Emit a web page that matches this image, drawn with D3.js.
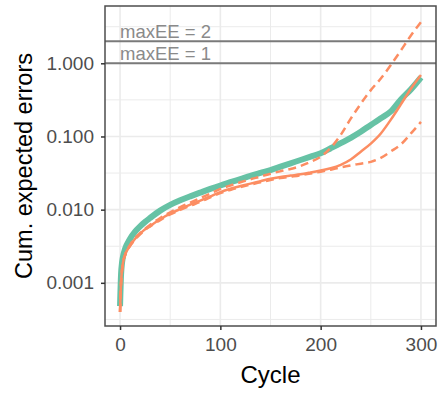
<!DOCTYPE html>
<html>
<head>
<meta charset="utf-8">
<script src="https://cdn.jsdelivr.net/npm/d3@7"></script>
<style>
  html, body { margin: 0; padding: 0; background: #ffffff; }
  svg { display: block; font-family: "Liberation Sans", Arial, Helvetica, sans-serif; }
</style>
</head>
<body>
<svg id="chart" width="439" height="396"></svg>
<script>
// Sequencing cycle at which each cumulative value is recorded
const cycles = [0, 1, 2, 3, 5, 10, 15, 20, 25, 30, 40, 50, 60, 70, 80, 90, 100, 110, 120, 130,
  140, 150, 160, 170, 180, 190, 200, 210, 220, 230, 240, 250, 260, 270, 280, 290, 300];

// Cumulative expected errors, reference read (thick line)
const eeRead1 = [0.00048, 0.0013, 0.0019, 0.0023, 0.0029, 0.0040, 0.0050, 0.0059, 0.0068, 0.0077,
  0.0097, 0.0116, 0.0134, 0.0152, 0.0171, 0.0192, 0.0214, 0.0237, 0.0262, 0.0290,
  0.0318, 0.0348, 0.0387, 0.0430, 0.0477, 0.0530, 0.0590, 0.0690, 0.0810, 0.0960,
  0.1160, 0.1440, 0.1770, 0.2200, 0.3200, 0.4400, 0.6400];

// Cumulative expected errors, second read: median and the two bounds
const eeRead2 = [0.00040, 0.0010, 0.0015, 0.0019, 0.0024, 0.0032, 0.0040, 0.0047, 0.0054, 0.0060,
  0.0074, 0.0088, 0.0102, 0.0117, 0.0133, 0.0152, 0.0174, 0.0193, 0.0210, 0.0227,
  0.0245, 0.0265, 0.0280, 0.0292, 0.0304, 0.0322, 0.0343, 0.0368, 0.0410, 0.0485,
  0.0620, 0.0800, 0.1100, 0.1700, 0.2750, 0.4500, 0.6900];
const eeRead2Upper = [0.00040, 0.0010, 0.0015, 0.0019, 0.0024, 0.0033, 0.0041, 0.0048, 0.0055, 0.0062,
  0.0077, 0.0092, 0.0108, 0.0125, 0.0144, 0.0166, 0.0192, 0.0214, 0.0237, 0.0260,
  0.0283, 0.0310, 0.0335, 0.0360, 0.0395, 0.0450, 0.0530, 0.0700, 0.1050, 0.1750,
  0.2800, 0.4300, 0.6200, 0.9500, 1.5000, 2.4000, 3.6500];
const eeRead2Lower = [0.00040, 0.0010, 0.0015, 0.0019, 0.0024, 0.0032, 0.0039, 0.0046, 0.0053, 0.0059,
  0.0072, 0.0086, 0.0099, 0.0113, 0.0128, 0.0147, 0.0168, 0.0186, 0.0203, 0.0220,
  0.0237, 0.0255, 0.0270, 0.0282, 0.0295, 0.0312, 0.0330, 0.0352, 0.0378, 0.0402,
  0.0425, 0.0450, 0.0510, 0.0625, 0.0780, 0.1100, 0.1580];

// Expected-error thresholds
const thresholds = [2, 1];
const thresholdLabels = ["maxEE = 2", "maxEE = 1"];

// Axis ticks
const xTicks = [0, 100, 200, 300];
const xMinor = [50, 150, 250];
const yTicks = [0.001, 0.01, 0.1, 1];
const yMinor = [Math.pow(10, -3.5), Math.pow(10, -2.5), Math.pow(10, -1.5), Math.pow(10, -0.5), Math.pow(10, 0.5)];

const panel = { left: 105, top: 6, right: 436, bottom: 326 };

const svg = d3.select("#chart");

const x = d3.scaleLinear().domain([-15, 315]).range([panel.left, panel.right]);
const y = d3.scaleLog().domain([Math.pow(10, -3.59), Math.pow(10, 0.783)]).range([panel.bottom, panel.top]);

// Panel background and grid
const grid = svg.append("g");
grid.append("rect")
  .attr("x", panel.left).attr("y", panel.top)
  .attr("width", panel.right - panel.left).attr("height", panel.bottom - panel.top)
  .attr("fill", "#ffffff");

grid.selectAll("line.ymin").data(yMinor).join("line")
  .attr("x1", panel.left).attr("x2", panel.right)
  .attr("y1", d => y(d)).attr("y2", d => y(d))
  .attr("stroke", "#EBEBEB").attr("stroke-width", 1);
grid.selectAll("line.xmin").data(xMinor).join("line")
  .attr("y1", panel.top).attr("y2", panel.bottom)
  .attr("x1", d => x(d)).attr("x2", d => x(d))
  .attr("stroke", "#EBEBEB").attr("stroke-width", 1);
grid.selectAll("line.ymaj").data(yTicks).join("line")
  .attr("x1", panel.left).attr("x2", panel.right)
  .attr("y1", d => y(d)).attr("y2", d => y(d))
  .attr("stroke", "#EBEBEB").attr("stroke-width", 1.6);
grid.selectAll("line.xmaj").data(xTicks).join("line")
  .attr("y1", panel.top).attr("y2", panel.bottom)
  .attr("x1", d => x(d)).attr("x2", d => x(d))
  .attr("stroke", "#EBEBEB").attr("stroke-width", 1.6);

// Threshold lines with labels
const thr = svg.append("g");
thr.selectAll("line").data(thresholds).join("line")
  .attr("x1", panel.left).attr("x2", panel.right)
  .attr("y1", d => y(d)).attr("y2", d => y(d))
  .attr("stroke", "#7a7a7a").attr("stroke-width", 2);
thr.selectAll("text").data(thresholds).join("text")
  .attr("x", x(0))
  .attr("y", d => y(d) - 3)
  .attr("fill", "#8a8a8a")
  .attr("font-size", 18.5)
  .text((d, i) => thresholdLabels[i]);

// Curves
const pts = vals => cycles.map((c, i) => [c, vals[i]]);
const line = d3.line().x(d => x(d[0])).y(d => y(d[1])).curve(d3.curveMonotoneX);

const plot = svg.append("g");
plot.append("path").attr("d", line(pts(eeRead1)))
  .attr("fill", "none").attr("stroke", "#66C2A5").attr("stroke-width", 6)
  .attr("stroke-linejoin", "round").attr("stroke-linecap", "butt");
plot.append("path").attr("d", line(pts(eeRead2)))
  .attr("fill", "none").attr("stroke", "#FC8D62").attr("stroke-width", 2.5)
  .attr("stroke-linejoin", "round");
[eeRead2Upper, eeRead2Lower].forEach(vals => {
  plot.append("path").attr("d", line(pts(vals)))
    .attr("fill", "none").attr("stroke", "#FC8D62").attr("stroke-width", 2.5)
    .attr("stroke-dasharray", "8,5");
});

// Panel border
svg.append("rect")
  .attr("x", panel.left).attr("y", panel.top)
  .attr("width", panel.right - panel.left).attr("height", panel.bottom - panel.top)
  .attr("fill", "none").attr("stroke", "#4d4d4d").attr("stroke-width", 1.5);

// Axes
const xAxis = svg.append("g")
  .attr("transform", `translate(0,${panel.bottom})`)
  .call(d3.axisBottom(x).tickValues(xTicks).tickSize(4).tickPadding(8).tickFormat(d3.format("d")));
const yAxis = svg.append("g")
  .attr("transform", `translate(${panel.left},0)`)
  .call(d3.axisLeft(y).tickValues(yTicks).tickSize(4).tickPadding(7).tickFormat(d3.format(".3f")));
[xAxis, yAxis].forEach(g => {
  g.select(".domain").remove();
  g.selectAll(".tick line").attr("stroke", "#333333").attr("stroke-width", 1.5);
  g.selectAll(".tick text").attr("fill", "#4d4d4d").attr("font-size", 19)
    .attr("font-family", "'Liberation Sans', Arial, sans-serif");
});

// Axis titles
svg.append("text")
  .attr("x", (panel.left + panel.right) / 2).attr("y", 383)
  .attr("text-anchor", "middle").attr("font-size", 24).attr("fill", "#000")
  .text("Cycle");
svg.append("text")
  .attr("transform", `translate(32,${(panel.top + panel.bottom) / 2}) rotate(-90)`)
  .attr("text-anchor", "middle").attr("font-size", 23.5).attr("fill", "#000")
  .text("Cum. expected errors");
</script>
</body>
</html>
